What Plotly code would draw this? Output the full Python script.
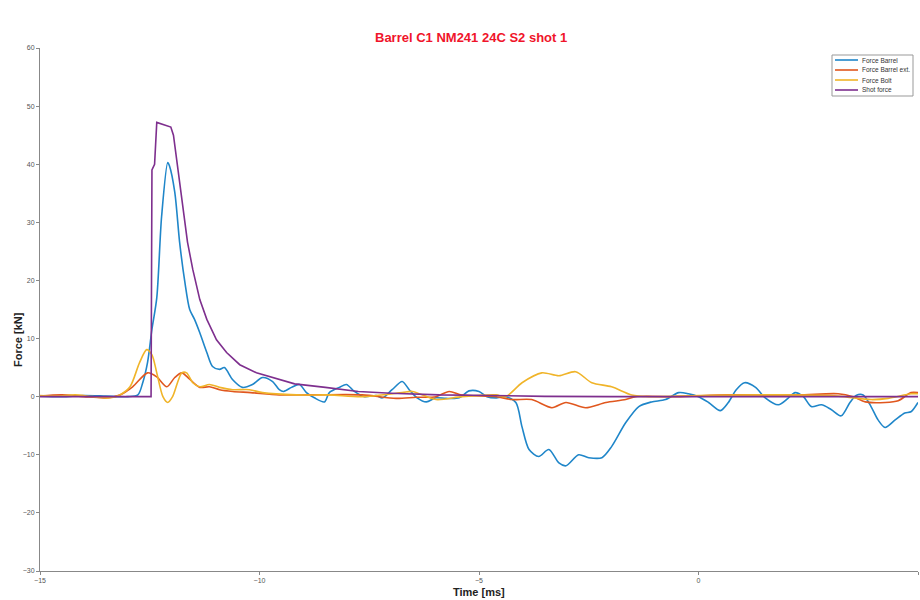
import plotly.graph_objects as go

# ---- data (time in ms, force in kN) ----
barrel_t = [-15.0, -14.5, -14.0, -13.5, -13.0, -12.77, -12.66, -12.55, -12.45, -12.34, -12.23,
            -12.09, -12.05, -11.93, -11.82, -11.70, -11.59, -11.48, -11.36, -11.20, -11.07,
            -10.91, -10.80, -10.61, -10.39, -10.16, -9.93, -9.70, -9.55, -9.45, -9.27, -9.09,
            -8.93, -8.75, -8.52, -8.41, -8.18, -8.02, -7.84, -7.61, -7.34, -7.20, -6.98, -6.75,
            -6.59, -6.41, -6.20, -5.98, -5.75, -5.45, -5.23, -5.0, -4.82, -4.61, -4.39, -4.16,
            -4.02, -3.86, -3.64, -3.41, -3.18, -3.02, -2.73, -2.50, -2.20, -1.98, -1.66, -1.36,
            -1.07, -0.75, -0.45, -0.23, 0.0, 0.23, 0.5, 0.68, 0.86, 1.05, 1.30, 1.52, 1.82,
            2.05, 2.20, 2.39, 2.57, 2.80, 3.02, 3.25, 3.45, 3.59, 3.75, 3.93, 4.09, 4.25, 4.48,
            4.70, 4.84, 5.0]
barrel_f = [0.1, 0.0, 0.2, 0.1, 0.0, 0.3, 2.4, 5.9, 11.6, 17.0, 31.0,
            40.3, 39.7, 35.2, 26.6, 19.7, 15.0, 13.3, 11.0, 7.6, 5.2,
            4.7, 5.0, 2.9, 1.6, 2.1, 3.3, 2.6, 1.2, 0.9, 1.6, 2.1,
            0.7, -0.2, -0.9, 0.7, 1.6, 2.1, 0.9, 0.0, 0.2, -0.2, 1.2, 2.6,
            1.2, -0.2, -0.9, -0.2, -0.3, -0.2, 1.0, 0.9, 0.0, -0.2, 0.0, -1.0,
            -5.2, -9.1, -10.3, -9.1, -11.4, -11.9, -10.0, -10.5, -10.5, -8.6, -4.5, -1.7,
            -0.9, -0.5, 0.7, 0.5, 0.0, -1.0, -2.4, -1.0, 1.2, 2.4, 1.6, -0.2, -1.4,
            -0.2, 0.7, 0.0, -1.7, -1.4, -2.2, -3.3, -1.0, 0.2, 0.3, -1.7, -4.0, -5.3, -4.0,
            -2.8, -2.6, -1.0]

ext_t = [-15.0, -14.5, -14.0, -13.5, -13.18, -12.89, -12.55, -12.34, -12.11, -11.93, -11.77,
         -11.59, -11.36, -11.14, -10.91, -10.61, -10.2, -9.55, -8.80, -7.66, -6.89, -6.43,
         -5.98, -5.68, -5.39, -4.61, -4.25, -3.80, -3.34, -3.02, -2.57, -2.11, -1.66, -1.43,
         -0.5, 0.68, 2.27, 3.18, 3.52, 3.80, 4.25, 4.55, 4.84, 5.0]
ext_f = [0.1, 0.3, 0.0, -0.2, 0.3, 1.7, 4.1, 3.4, 1.7, 3.3, 4.1,
         3.0, 1.6, 1.7, 1.2, 0.9, 0.7, 0.3, 0.3, 0.3, -0.3, -0.1,
         0.0, 0.9, 0.3, 0.0, -0.5, -0.5, -1.9, -1.0, -1.9, -1.0, -0.5, 0.0,
         0.0, 0.3, 0.3, 0.5, 0.0, -0.9, -1.0, -0.7, 0.7, 0.7]

bolt_t = [-15.0, -14.6, -14.2, -13.8, -13.4, -13.18, -12.95, -12.73, -12.57, -12.45, -12.34,
          -12.20, -12.09, -11.98, -11.77, -11.66, -11.52, -11.36, -11.14, -10.91, -10.61,
          -10.23, -9.93, -9.16, -8.41, -7.66, -6.75, -6.52, -5.98, -5.39, -4.61, -4.39,
          -4.02, -3.57, -3.18, -2.80, -2.43, -1.98, -1.52, -1.14, 0.0, 1.82, 3.18, 3.93,
          4.32, 4.84, 5.0]
bolt_f = [0.2, 0.1, 0.3, 0.0, -0.2, 0.3, 1.7, 5.9, 8.1, 7.2, 4.1,
          0.0, -1.0, 0.0, 4.1, 4.1, 2.4, 1.7, 2.1, 1.6, 1.2,
          1.2, 0.7, 0.3, 0.3, 0.0, 0.7, 0.9, -0.5, 0.0, 0.3, 0.0,
          2.4, 4.1, 3.6, 4.3, 2.4, 1.7, 0.3, 0.0, 0.2, 0.3, 0.1, -0.5,
          -0.3, 0.5, 0.5]

shot_t = [-15.0, -12.50, -12.47, -12.45, -12.39, -12.34, -12.27, -12.16, -12.02, -11.96,
          -11.89, -11.75, -11.64, -11.52, -11.36, -11.20, -10.98, -10.75, -10.45, -10.07,
          -9.70, -9.55, -9.20, -8.50, -7.75, -7.00, -5.90, -4.75, -3.50, -2.00, 5.0]
shot_f = [0.0, 0.0, 0.0, 39.0, 40.0, 47.2, 47.0, 46.8, 46.4, 45.0,
          40.9, 32.2, 26.6, 21.9, 16.7, 13.3, 9.8, 7.6, 5.5, 4.1,
          3.3, 2.9, 2.2, 1.6, 0.9, 0.6, 0.3, 0.2, 0.05, 0.0, 0.0]

series_names = ["Force Barrel", "Force Barrel ext.", "Force Bolt", "Shot force"]
x_ticks = [-15, -10, -5, 0, 5]
y_ticks = [-30, -20, -10, 0, 10, 20, 30, 40, 50, 60]

colors = ["#1f86c9", "#e0571e", "#f0b429", "#7e2f8e"]

fig = go.Figure()
data = [(barrel_t, barrel_f, "spline"), (ext_t, ext_f, "spline"),
        (bolt_t, bolt_f, "spline"), (shot_t, shot_f, "linear")]
for (t, f, shape), name, c in zip(data, series_names, colors):
    fig.add_trace(go.Scatter(x=t, y=f, mode="lines", name=name, showlegend=False,
                             line=dict(color=c, width=1.6, shape=shape,
                                       smoothing=0.8 if shape == "spline" else None)))

font = "Liberation Sans, Arial, sans-serif"

# plot area: 878 x 523 px
PW, PH = 878.0, 523.0
def px(dx):
    return dx / PW
def py(dy):
    return dy / PH

# compact legend box drawn in paper coordinates
leg_left, leg_right = px(792), px(873)      # relative to plot left edge
leg_top, leg_bot = 1 - py(7), 1 - py(48)
shapes = [dict(type="rect", xref="paper", yref="paper", x0=leg_left, x1=leg_right,
               y0=leg_bot, y1=leg_top, line=dict(color="#999", width=1),
               fillcolor="white", layer="above")]
annotations = []
for i, (name, c) in enumerate(zip(series_names, colors)):
    yy = 1 - py(12 + i * 10)
    shapes.append(dict(type="line", xref="paper", yref="paper", x0=px(795), x1=px(818),
                       y0=yy, y1=yy, line=dict(color=c, width=1.6), layer="above"))
    annotations.append(dict(text=name, x=px(820), y=yy, xref="paper", yref="paper",
                            xanchor="left", yanchor="middle", showarrow=False,
                            font=dict(size=6.5, color="#333", family=font)))

annotations += [
    dict(text="<b>Barrel C1 NM241 24C S2 shot 1</b>", x=px(431), y=1 + py(10),
         xref="paper", yref="paper", xanchor="center", yanchor="middle", showarrow=False,
         font=dict(color="#f0142a", size=13, family=font)),
    dict(text="<b>Time [ms]</b>", x=0.5, y=-py(21), xref="paper", yref="paper",
         xanchor="center", yanchor="middle", showarrow=False,
         font=dict(size=11, color="#222", family=font)),
    dict(text="<b>Force [kN]</b>", x=-px(22), y=py(571 - 340), xref="paper", yref="paper",
         xanchor="center", yanchor="middle", showarrow=False, textangle=-90,
         font=dict(size=11, color="#222", family=font)),
]

fig.update_layout(
    width=920, height=600,
    paper_bgcolor="white", plot_bgcolor="white",
    margin=dict(l=40, r=2, t=48, b=29, autoexpand=False),
    font=dict(family=font),
    showlegend=False,
    xaxis=dict(range=[-15, 5], tickvals=x_ticks, ticks="outside", ticklen=3,
               tickcolor="#888", showline=True, linecolor="#888", linewidth=1,
               showgrid=False, zeroline=False, automargin=False,
               tickfont=dict(size=7, color="#555")),
    yaxis=dict(range=[-30, 60], tickvals=y_ticks, ticks="outside", ticklen=3,
               tickcolor="#888", showline=True, linecolor="#888", linewidth=1,
               showgrid=False, zeroline=False, automargin=False,
               tickfont=dict(size=7, color="#555")),
    shapes=shapes,
    annotations=annotations,
)

# remove the default page margin so the 920x600 figure fills the window exactly
fig.write_html("out.html", config={"displayModeBar": False},
               post_script="document.body.style.margin='0';document.body.style.overflow='hidden';")
